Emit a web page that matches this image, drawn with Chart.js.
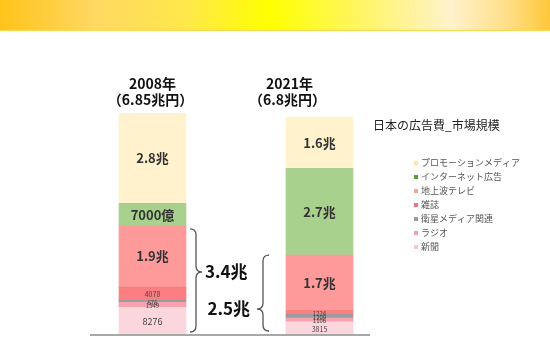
<!DOCTYPE html>
<html lang="ja">
<head>
<meta charset="utf-8">
<title>日本の広告費_市場規模</title>
<script src="https://cdn.jsdelivr.net/npm/chart.js@4.4.1/dist/chart.umd.min.js"></script>
<style>
    html, body { margin: 0; padding: 0; background: #ffffff; }
    #wrap { position: relative; width: 550px; height: 343px; overflow: hidden; }
    #band {
        position: absolute; left: 0; top: 0; width: 550px; height: 30px;
        background: linear-gradient(90deg, #ffc41a 0%, #ffd862 17%, #ffe84a 34%, #ffff00 49%, #fff65a 64%, #fff2cc 82%, #ffdf8a 92%, #ffc83a 100%);
        border-bottom: 1px solid #ffd84e;
    }
    #chart { position: absolute; left: 0; top: 0; }
</style>
</head>
<body>
<div id="wrap">
    <div id="band"></div>
    <canvas id="chart" width="550" height="343"></canvas>
</div>
<script>
// 日本の広告費 (単位: 億円)
const years = ['2008年', '2021年'];
const yearTotals = ['（6.85兆円）', '（6.8兆円）'];

const newspaper = [8276, 3815];
const radio = [1549, 1106];
const satellite = [676, 1209];
const magazine = [4078, 1224];
const terrestrialTv = [19092, 17184];
const internet = [7000, 27000];
const promotion = [28000, 16000];

const chartTitle = '日本の広告費_市場規模';

const FONT = "'Noto Sans CJK JP', 'Noto Sans', sans-serif";

// bottom-to-top stacking order; legend lists them top-down
const series = [
    { label: '新聞', data: newspaper, color: '#fbd6dd', legend: '#f9c6d0', unit: false, legacy: true },
    { label: 'ラジオ', data: radio, color: '#f5a2ae', legend: '#f5a0b0', unit: false, legacy: true },
    { label: '衛星メディア関連', data: satellite, color: '#9c9c9c', legend: '#9a9a9a', unit: false, legacy: true },
    { label: '雑誌', data: magazine, color: '#fb7e82', legend: '#f0727c', unit: false, legacy: true },
    { label: '地上波テレビ', data: terrestrialTv, color: '#fe9a9a', legend: '#f4a4a4', unit: true, legacy: true },
    { label: 'インターネット広告', data: internet, color: '#a9d18e', legend: '#5c9e3a', unit: true, legacy: false },
    { label: 'プロモーションメディア', data: promotion, color: '#fff2cc', legend: '#ffe59a', unit: true, legacy: false }
];

function formatOku(v, unit) {
    if (!unit) return String(v);
    if (v >= 10000) return (v / 10000).toFixed(1) + '兆';
    return v + '億';
}

// segment values, year headings, baseline
const decorPlugin = {
    id: 'decor',
    afterDatasetsDraw(chart) {
        const ctx = chart.ctx;
        const yScale = chart.scales.y;
        const base = yScale.getPixelForValue(0);

        ctx.save();
        ctx.strokeStyle = '#a8a8a8';
        ctx.lineWidth = 2;
        ctx.beginPath();
        ctx.moveTo(90, base + 1);
        ctx.lineTo(370, base + 1);
        ctx.stroke();

        ctx.textAlign = 'center';
        ctx.textBaseline = 'middle';
        chart.data.datasets.forEach((ds, di) => {
            const meta = chart.getDatasetMeta(di);
            meta.data.forEach((bar, i) => {
                const h = Math.abs(bar.base - bar.y);
                const cy = (bar.base + bar.y) / 2;
                const unit = series[di].unit;
                let size;
                if (unit) size = 13;
                else if (h >= 20) size = 9;
                else if (h >= 10) size = 7;
                else size = 6;
                ctx.font = (unit ? 'bold ' : '') + size + 'px ' + FONT;
                ctx.fillStyle = unit ? '#333333' : '#444444';
                ctx.fillText(formatOku(ds.data[i], unit), bar.x, cy + (unit ? 0 : 1));
            });
        });

        // year headings above each bar
        const meta0 = chart.getDatasetMeta(0);
        const shift = [0, -30];
        ctx.fillStyle = '#111111';
        ctx.font = 'bold 14px ' + FONT;
        meta0.data.forEach((bar, i) => {
            ctx.fillText(years[i], bar.x + shift[i], 84);
            ctx.fillText(yearTotals[i], bar.x + shift[i] - 2, 100);
        });
        ctx.restore();
    }
};

// curly brace with a tip at yMid; dir 1 points right, -1 points left
function drawBrace(ctx, x, yTop, yBot, yMid, dir) {
    const r = 6;
    ctx.beginPath();
    ctx.moveTo(x - dir * r, yTop);
    ctx.quadraticCurveTo(x, yTop, x, yTop + r);
    ctx.lineTo(x, yMid - r);
    ctx.quadraticCurveTo(x, yMid, x + dir * r, yMid);
    ctx.quadraticCurveTo(x, yMid, x, yMid + r);
    ctx.lineTo(x, yBot - r);
    ctx.quadraticCurveTo(x, yBot, x - dir * r, yBot);
    ctx.stroke();
}

// legacy media totals with braces
const bracePlugin = {
    id: 'braces',
    afterDraw(chart) {
        const ctx = chart.ctx;
        const yScale = chart.scales.y;
        const legacy = series.filter(s => s.legacy);
        const sums = years.map((_, i) => legacy.reduce((a, s) => a + s.data[i], 0));
        const base = yScale.getPixelForValue(0);

        ctx.save();
        ctx.strokeStyle = '#555555';
        ctx.lineWidth = 1.3;
        drawBrace(ctx, 196, yScale.getPixelForValue(sums[0]) + 3, base - 2, 272, 1);
        drawBrace(ctx, 263, yScale.getPixelForValue(sums[1]), base - 3, 309, -1);

        ctx.fillStyle = '#111111';
        ctx.font = 'bold 17px ' + FONT;
        ctx.textBaseline = 'middle';
        ctx.textAlign = 'left';
        ctx.fillText((sums[0] / 10000).toFixed(1) + '兆', 205, 272);
        ctx.textAlign = 'right';
        ctx.fillText((sums[1] / 10000).toFixed(1) + '兆', 250, 309);
        ctx.restore();
    }
};

// title and legend on the right
const legendPlugin = {
    id: 'sideLegend',
    afterDraw(chart) {
        const ctx = chart.ctx;
        ctx.save();
        ctx.textBaseline = 'middle';
        ctx.textAlign = 'left';
        ctx.fillStyle = '#222222';
        ctx.font = '12px ' + FONT;
        ctx.fillText(chartTitle, 373, 125);

        ctx.font = '9px ' + FONT;
        const items = series.slice().reverse();
        items.forEach((s, i) => {
            const y = 163 + i * 14;
            ctx.fillStyle = s.legend;
            ctx.fillRect(414, y - 2, 4, 4);
            ctx.fillStyle = '#555555';
            ctx.fillText(s.label, 421, y);
        });
        ctx.restore();
    }
};

new Chart(document.getElementById('chart'), {
    type: 'bar',
    data: {
        labels: years,
        datasets: series.map(s => ({
            label: s.label,
            data: s.data,
            backgroundColor: s.color,
            borderWidth: 0,
            barThickness: 67
        }))
    },
    options: {
        responsive: false,
        animation: false,
        layout: {
            padding: { left: 69, right: 147, top: 77, bottom: 9 }
        },
        plugins: {
            legend: { display: false },
            tooltip: { enabled: false }
        },
        scales: {
            x: { stacked: true, display: false },
            y: { stacked: true, display: false, min: 0, max: 80000 }
        }
    },
    plugins: [decorPlugin, bracePlugin, legendPlugin]
});
</script>
</body>
</html>
